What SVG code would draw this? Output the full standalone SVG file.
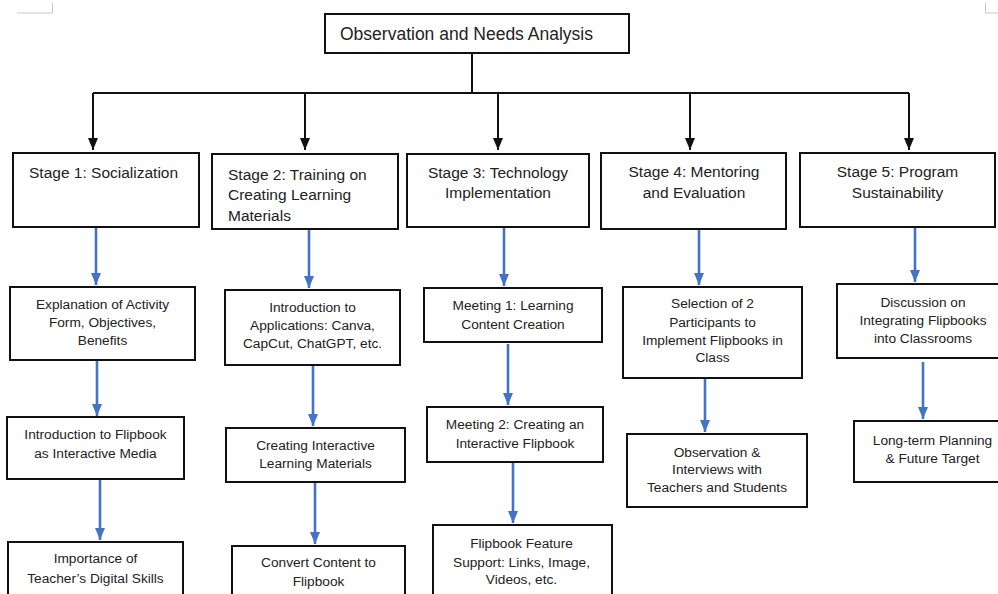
<svg xmlns="http://www.w3.org/2000/svg" width="998" height="594" viewBox="0 0 998 594">
<defs>
<style>
.box{fill:#fff;stroke:#111;stroke-width:2}
.t{font-family:"Liberation Sans",Arial,Helvetica,sans-serif;font-size:13.7px;fill:#222;text-anchor:middle}
.s{font-family:"Liberation Sans",Arial,Helvetica,sans-serif;font-size:15.5px;fill:#222}
.k{fill:none;stroke:#111;stroke-width:2}
.b{fill:none;stroke:#4472c4;stroke-width:2.6}
.mark{fill:none;stroke:#c8c8c8;stroke-width:1}
</style>
<marker id="ak" viewBox="0 0 12 10" refX="12" refY="5" markerWidth="12" markerHeight="10" markerUnits="userSpaceOnUse" orient="auto"><path d="M0,0 L12,5 L0,10 z" fill="#111"/></marker>
<marker id="ab" viewBox="0 0 12 10" refX="12" refY="5" markerWidth="12" markerHeight="11" markerUnits="userSpaceOnUse" orient="auto"><path d="M0,0 L12,5 L0,10 z" fill="#4472c4"/></marker>
</defs>
<rect width="998" height="594" fill="#fff"/>
<polyline class="mark" points="17,13 52.5,13 52.5,3"/>
<polyline class="mark" points="998,13 985.5,13 985.5,3"/>

<g id="connectors">
<path class="k" d="M472,53 V93"/>
<path class="k" d="M93,93 H909"/>
<path class="k" d="M93,93 V150" marker-end="url(#ak)"/>
<path class="k" d="M305,93 V150" marker-end="url(#ak)"/>
<path class="k" d="M498,93 V150" marker-end="url(#ak)"/>
<path class="k" d="M690,93 V150" marker-end="url(#ak)"/>
<path class="k" d="M909,93 V150" marker-end="url(#ak)"/>
<path class="b" d="M96,228 V285" marker-end="url(#ab)"/>
<path class="b" d="M97,361 V416" marker-end="url(#ab)"/>
<path class="b" d="M100,480 V540" marker-end="url(#ab)"/>
<path class="b" d="M309,230 V288" marker-end="url(#ab)"/>
<path class="b" d="M313,366 V426" marker-end="url(#ab)"/>
<path class="b" d="M315,483 V544" marker-end="url(#ab)"/>
<path class="b" d="M504,228 V286" marker-end="url(#ab)"/>
<path class="b" d="M508,344 V405" marker-end="url(#ab)"/>
<path class="b" d="M513,463 V523" marker-end="url(#ab)"/>
<path class="b" d="M699,230 V285" marker-end="url(#ab)"/>
<path class="b" d="M705,379 V432" marker-end="url(#ab)"/>
<path class="b" d="M915,228 V282" marker-end="url(#ab)"/>
<path class="b" d="M923,362 V419" marker-end="url(#ab)"/>
</g>

<g id="root">
<rect class="box" x="325" y="14" width="304" height="39"/>
<text class="s" x="340" y="40" style="font-size:17.5px">Observation and Needs Analysis</text>
</g>

<g id="stage1">
<rect class="box" x="13" y="153" width="186" height="74"/>
<text class="s" x="29" y="178">Stage 1: Socialization</text>
</g>
<g id="stage2">
<rect class="box" x="212" y="154" width="186" height="75"/>
<text class="s" x="228" y="180">Stage 2: Training on</text>
<text class="s" x="228" y="200">Creating Learning</text>
<text class="s" x="228" y="221">Materials</text>
</g>
<g id="stage3">
<rect class="box" x="407" y="154" width="182" height="73"/>
<text class="s" x="498" y="178" text-anchor="middle">Stage 3: Technology</text>
<text class="s" x="498" y="198" text-anchor="middle">Implementation</text>
</g>
<g id="stage4">
<rect class="box" x="601" y="153" width="185" height="76"/>
<text class="s" x="694" y="177" text-anchor="middle">Stage 4: Mentoring</text>
<text class="s" x="694" y="198" text-anchor="middle">and Evaluation</text>
</g>
<g id="stage5">
<rect class="box" x="800" y="153" width="195" height="74"/>
<text class="s" x="897.5" y="177" text-anchor="middle">Stage 5: Program</text>
<text class="s" x="897.5" y="198" text-anchor="middle">Sustainability</text>
</g>

<g id="s1a">
<rect class="box" x="10" y="287" width="185" height="73"/>
<text class="t" x="102.5" y="309">Explanation of Activity</text>
<text class="t" x="102.5" y="327">Form, Objectives,</text>
<text class="t" x="102.5" y="345">Benefits</text>
</g>
<g id="s1b">
<rect class="box" x="7" y="417" width="177" height="62"/>
<text class="t" x="95.5" y="439">Introduction to Flipbook</text>
<text class="t" x="95.5" y="458">as Interactive Media</text>
</g>
<g id="s1c">
<rect class="box" x="8" y="542" width="175" height="60"/>
<text class="t" x="95.5" y="563">Importance of</text>
<text class="t" x="95.5" y="583">Teacher’s Digital Skills</text>
</g>

<g id="s2a">
<rect class="box" x="225" y="290" width="175" height="75"/>
<text class="t" x="312.5" y="312">Introduction to</text>
<text class="t" x="312.5" y="330">Applications: Canva,</text>
<text class="t" x="312.5" y="348">CapCut, ChatGPT, etc.</text>
</g>
<g id="s2b">
<rect class="box" x="226" y="428" width="179" height="54"/>
<text class="t" x="315.5" y="450">Creating Interactive</text>
<text class="t" x="315.5" y="468">Learning Materials</text>
</g>
<g id="s2c">
<rect class="box" x="232" y="546" width="173" height="56"/>
<text class="t" x="318.5" y="567">Convert Content to</text>
<text class="t" x="318.5" y="586">Flipbook</text>
</g>

<g id="s3a">
<rect class="box" x="424" y="288" width="178" height="54"/>
<text class="t" x="513" y="310">Meeting 1: Learning</text>
<text class="t" x="513" y="329">Content Creation</text>
</g>
<g id="s3b">
<rect class="box" x="427" y="407" width="176" height="55"/>
<text class="t" x="515" y="429">Meeting 2: Creating an</text>
<text class="t" x="515" y="448">Interactive Flipbook</text>
</g>
<g id="s3c">
<rect class="box" x="433" y="525" width="179" height="77"/>
<text class="t" x="521.5" y="548">Flipbook Feature</text>
<text class="t" x="521.5" y="567">Support: Links, Image,</text>
<text class="t" x="521.5" y="584">Videos, etc.</text>
</g>

<g id="s4a">
<rect class="box" x="623" y="287" width="179" height="91"/>
<text class="t" x="712.5" y="308">Selection of 2</text>
<text class="t" x="712.5" y="327">Participants to</text>
<text class="t" x="712.5" y="345">Implement Flipbooks in</text>
<text class="t" x="712.5" y="362">Class</text>
</g>
<g id="s4b">
<rect class="box" x="627" y="434" width="180" height="73"/>
<text class="t" x="717" y="457">Observation &amp;</text>
<text class="t" x="717" y="474">Interviews with</text>
<text class="t" x="717" y="492">Teachers and Students</text>
</g>

<g id="s5a">
<rect class="box" x="837" y="284" width="172" height="74"/>
<text class="t" x="923" y="307">Discussion on</text>
<text class="t" x="923" y="325">Integrating Flipbooks</text>
<text class="t" x="923" y="343">into Classrooms</text>
</g>
<g id="s5b">
<rect class="box" x="854" y="421" width="157" height="61"/>
<text class="t" x="932.5" y="445">Long-term Planning</text>
<text class="t" x="932.5" y="463">&amp; Future Target</text>
</g>
</svg>
